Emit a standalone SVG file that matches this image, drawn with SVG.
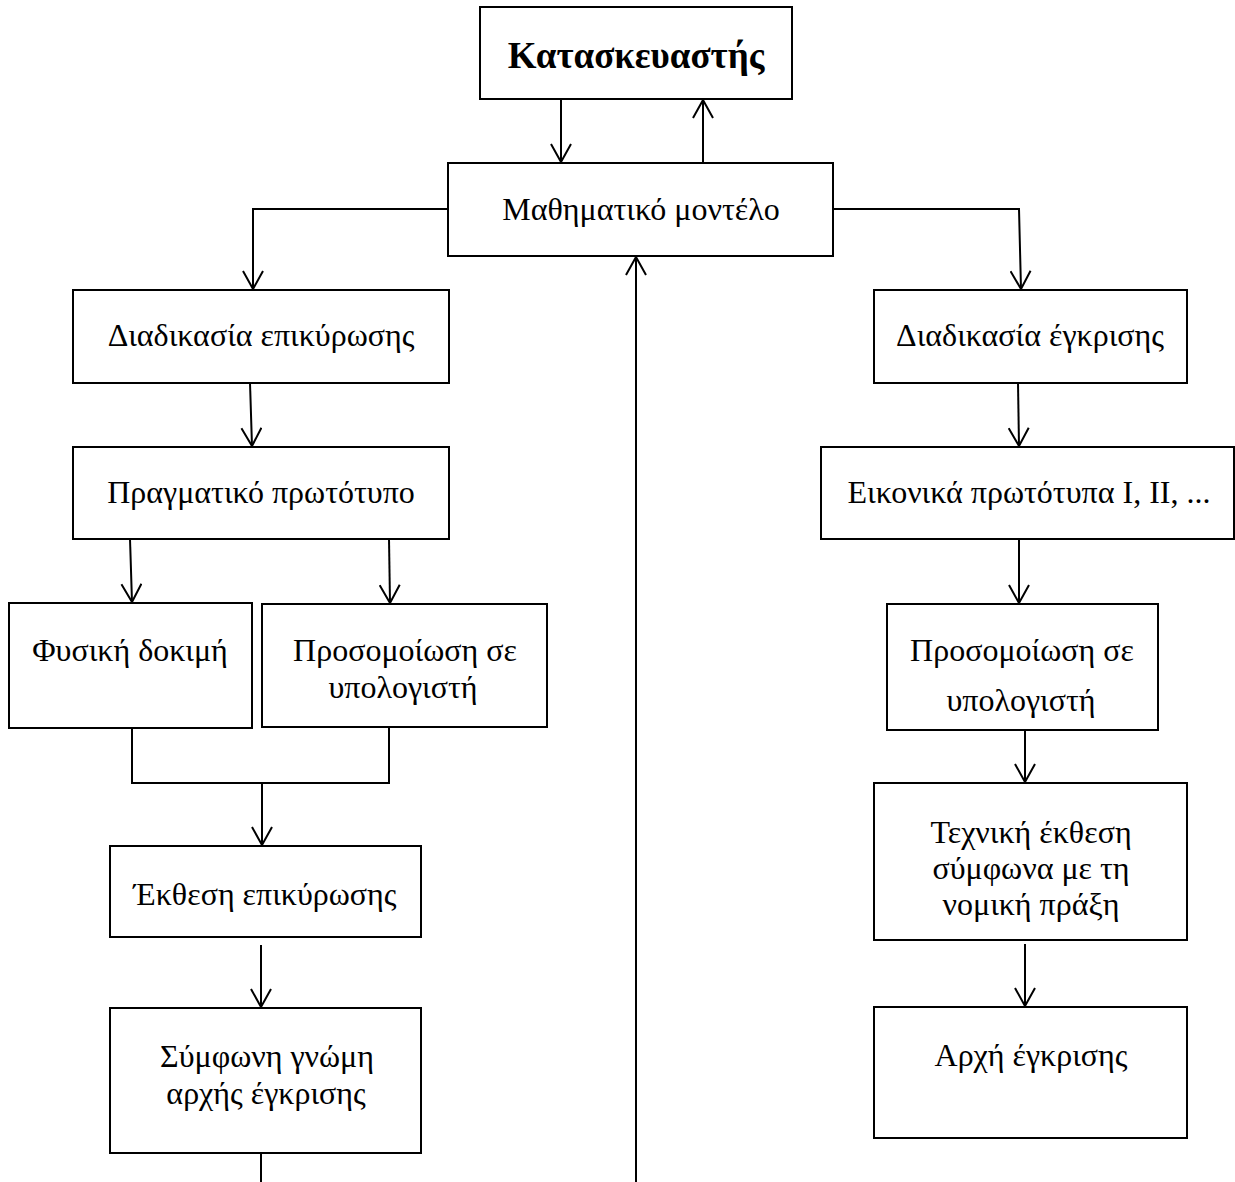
<svg xmlns="http://www.w3.org/2000/svg" width="1235" height="1182" viewBox="0 0 1235 1182">
<defs>
<style>
.box{fill:#fff;stroke:#000;stroke-width:2}
.t{font-family:"Liberation Serif","Times New Roman",serif;font-size:32px;fill:#000;text-anchor:middle}
.b{font-weight:bold;font-size:37px}
.c{fill:none;stroke:#000;stroke-width:2}
</style>
<marker id="ah" viewBox="0 0 20 22" refX="19" refY="11" markerWidth="20" markerHeight="22" markerUnits="userSpaceOnUse" orient="auto">
<path d="M1,1 L19,11 L1,21" fill="none" stroke="#000" stroke-width="2"/>
</marker>
</defs>
<rect width="1235" height="1182" fill="#fff"/>
<g id="connectors">
<path class="c" d="M561,99 L561,162" marker-end="url(#ah)"/>
<path class="c" d="M703,163 L703,100" marker-end="url(#ah)"/>
<path class="c" d="M448,209 L253,209 L253,289" marker-end="url(#ah)"/>
<path class="c" d="M833,209 L1019,209 L1021,289" marker-end="url(#ah)"/>
<path class="c" d="M250,383 L252,446" marker-end="url(#ah)"/>
<path class="c" d="M130,539 L132,602" marker-end="url(#ah)"/>
<path class="c" d="M389,539 L390,603" marker-end="url(#ah)"/>
<path class="c" d="M132,728 L132,783 L389,783 L389,727"/>
<path class="c" d="M262,783 L262,845" marker-end="url(#ah)"/>
<path class="c" d="M261,945 L261,1007" marker-end="url(#ah)"/>
<path class="c" d="M261,1132 L261,1182"/>
<path class="c" d="M636,1182 L636,257" marker-end="url(#ah)"/>
<path class="c" d="M1018,383 L1019,446" marker-end="url(#ah)"/>
<path class="c" d="M1019,539 L1019,603" marker-end="url(#ah)"/>
<path class="c" d="M1025,730 L1025,782" marker-end="url(#ah)"/>
<path class="c" d="M1025,944 L1025,1006" marker-end="url(#ah)"/>
</g>
<g id="kataskevastis"><rect class="box" x="480" y="7" width="312" height="92"/><text class="t b" x="636" y="68">Κατασκευαστής</text></g>
<g id="montelo"><rect class="box" x="448" y="163" width="385" height="93"/><text class="t" x="641" y="220">Μαθηματικό μοντέλο</text></g>
<g id="diadikasia-epikyrosis"><rect class="box" x="73" y="290" width="376" height="93"/><text class="t" x="261" y="346">Διαδικασία επικύρωσης</text></g>
<g id="pragmatiko"><rect class="box" x="73" y="447" width="376" height="92"/><text class="t" x="261" y="503">Πραγματικό πρωτότυπο</text></g>
<g id="fysiki"><rect class="box" x="9" y="603" width="243" height="125"/><text class="t" x="130" y="661">Φυσική δοκιμή</text></g>
<g id="prosomoiosi-l"><rect class="box" x="262" y="604" width="285" height="123"/><text class="t" x="405" y="661">Προσομοίωση σε</text><text class="t" x="403" y="698">υπολογιστή</text></g>
<g id="ekthesi"><rect class="box" x="110" y="846" width="311" height="91"/><text class="t" x="265" y="905">Έκθεση επικύρωσης</text></g>
<g id="symfoni"><rect class="box" x="110" y="1008" width="311" height="145"/><text class="t" x="267" y="1067">Σύμφωνη γνώμη</text><text class="t" x="266" y="1104">αρχής έγκρισης</text></g>
<g id="diadikasia-egkrisis"><rect class="box" x="874" y="290" width="313" height="93"/><text class="t" x="1030" y="346">Διαδικασία έγκρισης</text></g>
<g id="eikonika"><rect class="box" x="821" y="447" width="413" height="92"/><text class="t" x="1029" y="503">Εικονικά πρωτότυπα I, II, ...</text></g>
<g id="prosomoiosi-r"><rect class="box" x="887" y="604" width="271" height="126"/><text class="t" x="1022" y="661">Προσομοίωση σε</text><text class="t" x="1021" y="711">υπολογιστή</text></g>
<g id="techniki"><rect class="box" x="874" y="783" width="313" height="157"/><text class="t" x="1031" y="843">Τεχνική έκθεση</text><text class="t" x="1031" y="879">σύμφωνα με τη</text><text class="t" x="1031" y="915">νομική πράξη</text></g>
<g id="archi"><rect class="box" x="874" y="1007" width="313" height="131"/><text class="t" x="1031" y="1066">Αρχή έγκρισης</text></g>
</svg>
